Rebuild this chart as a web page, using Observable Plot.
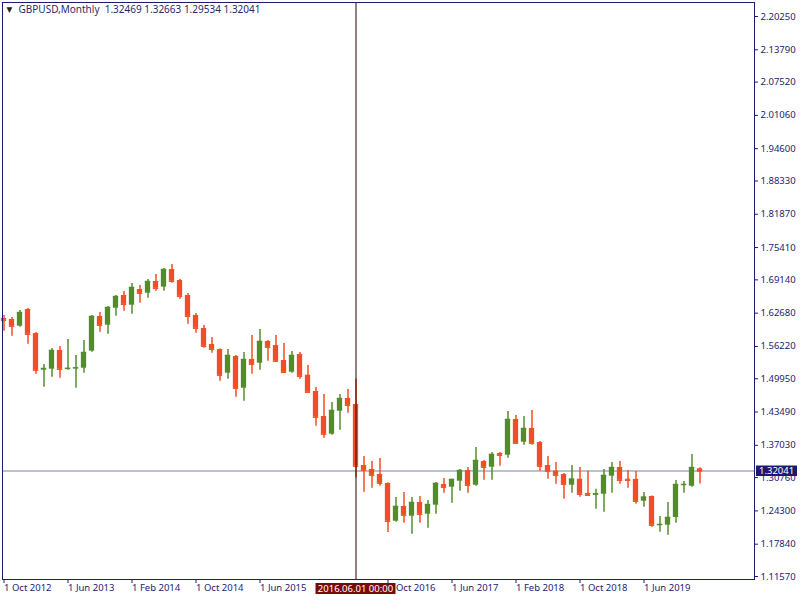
<!DOCTYPE html>
<html><head><meta charset="utf-8">
<script src="https://cdn.jsdelivr.net/npm/d3@7"></script>
<script src="https://cdn.jsdelivr.net/npm/@observablehq/plot@0.6"></script>
<style>html,body{margin:0;padding:0;background:#fff;} #chart svg{display:block}</style>
</head><body><div id="chart"></div>
<script>
const months = ["2012-10","2012-11","2012-12",
"2013-01","2013-02","2013-03","2013-04","2013-05","2013-06","2013-07","2013-08","2013-09","2013-10","2013-11","2013-12",
"2014-01","2014-02","2014-03","2014-04","2014-05","2014-06","2014-07","2014-08","2014-09","2014-10","2014-11","2014-12",
"2015-01","2015-02","2015-03","2015-04","2015-05","2015-06","2015-07","2015-08","2015-09","2015-10","2015-11","2015-12",
"2016-01","2016-02","2016-03","2016-04","2016-05","2016-06","2016-07","2016-08","2016-09","2016-10","2016-11","2016-12",
"2017-01","2017-02","2017-03","2017-04","2017-05","2017-06","2017-07","2017-08","2017-09","2017-10","2017-11","2017-12",
"2018-01","2018-02","2018-03","2018-04","2018-05","2018-06","2018-07","2018-08","2018-09","2018-10","2018-11","2018-12",
"2019-01","2019-02","2019-03","2019-04","2019-05","2019-06","2019-07","2019-08","2019-09","2019-10","2019-11","2019-12",
"2020-01"];
const open = [1.6164,1.6145,1.6015,
1.6339,1.5873,1.5161,1.5180,1.5543,1.5180,1.5196,1.5199,1.5530,1.6203,1.6034,1.6364,
1.6610,1.6422,1.6727,1.6655,1.6882,1.6772,1.7115,1.6901,1.6610,1.6222,1.5970,1.5659,
1.5562,1.5103,1.5427,1.4811,1.5368,1.5297,1.5718,1.5640,1.5349,1.5122,1.5465,1.5064,
1.4747,1.4262,1.3919,1.4365,1.4611,1.4495,1.3311,1.3234,1.3137,1.2962,1.2230,1.2516,
1.2327,1.2593,1.2366,1.2541,1.2942,1.2890,1.3006,1.3214,1.2929,1.3389,1.3278,1.3544,
1.3511,1.4204,1.3763,1.4029,1.3758,1.3311,1.3201,1.3137,1.2929,1.3045,1.2768,1.2735,
1.2754,1.3104,1.3272,1.3045,1.3040,1.2618,1.2710,1.2153,1.2153,1.2302,1.2935,1.2909,
1.32469];
const high = [1.6222,1.6185,1.6319,
1.6358,1.5892,1.5271,1.5582,1.5621,1.5756,1.5446,1.5737,1.6222,1.6280,1.6397,1.6610,
1.6688,1.6844,1.6805,1.6921,1.7018,1.7134,1.7212,1.6920,1.6649,1.6261,1.6028,1.5795,
1.5570,1.5562,1.5446,1.5504,1.5834,1.5951,1.5737,1.5834,1.5679,1.5524,1.5504,1.5252,
1.4825,1.4689,1.4534,1.4689,1.4786,1.4990,1.3486,1.3389,1.3447,1.2975,1.2690,1.2787,
1.2690,1.2710,1.2632,1.2981,1.3059,1.3045,1.3234,1.3272,1.3660,1.3408,1.3563,1.3563,
1.4359,1.4281,1.4262,1.4379,1.3777,1.3486,1.3370,1.3156,1.3311,1.3272,1.3201,1.2851,
1.3234,1.3370,1.3389,1.3214,1.3195,1.2787,1.2720,1.2321,1.2593,1.3020,1.3001,1.3525,
1.32663];
const low = [1.5917,1.5820,1.5995,
1.5665,1.5083,1.4831,1.5025,1.5005,1.5161,1.4811,1.5103,1.5510,1.5898,1.5859,1.6208,
1.6306,1.6247,1.6461,1.6558,1.6694,1.6694,1.6849,1.6539,1.6054,1.5879,1.5588,1.5490,
1.4947,1.4986,1.4637,1.4559,1.5083,1.5161,1.5336,1.5330,1.5103,1.5103,1.4986,1.4730,
1.4074,1.3841,1.3900,1.3996,1.4326,1.3070,1.2793,1.2870,1.2909,1.2010,1.2211,1.2191,
1.1978,1.2191,1.2094,1.2366,1.2774,1.2580,1.2813,1.2774,1.2909,1.3026,1.3026,1.3298,
1.3453,1.3740,1.3705,1.3705,1.3201,1.3045,1.2948,1.2657,1.2774,1.2696,1.2715,1.2463,
1.2405,1.2774,1.2948,1.2870,1.2560,1.2502,1.2114,1.2017,1.1958,1.2191,1.2774,1.2890,
1.29534];
const close = [1.6131,1.6015,1.6280,
1.5859,1.5161,1.5194,1.5543,1.5180,1.5196,1.5205,1.5504,1.6203,1.6034,1.6377,1.6591,
1.6441,1.6766,1.6655,1.6882,1.6752,1.7115,1.6888,1.6597,1.6208,1.5976,1.5626,1.5568,
1.5064,1.5446,1.4811,1.5368,1.5277,1.5718,1.5607,1.5336,1.5122,1.5446,1.5044,1.4734,
1.4249,1.3919,1.4379,1.4611,1.4481,1.3298,1.3220,1.3123,1.2968,1.2230,1.2516,1.2347,
1.2593,1.2366,1.2554,1.2962,1.2890,1.3040,1.3214,1.2929,1.3408,1.3278,1.3525,1.3511,
1.4204,1.3744,1.4029,1.3744,1.3298,1.3201,1.3123,1.2948,1.3045,1.2754,1.2735,1.2762,
1.3117,1.3272,1.3026,1.3026,1.2618,1.2696,1.2153,1.2166,1.2302,1.2942,1.2942,1.3272,
1.32041];
const symbol = "GBPUSD,Monthly";
const yTicks = [2.20250,2.13790,2.07520,2.01060,1.94600,1.88330,1.81870,1.75410,1.69140,1.62680,1.56220,1.49950,1.43490,1.37030,1.30760,1.24300,1.17840,1.11570];
const xTickMonths = ["2012-10","2013-06","2014-02","2014-10","2015-06","2016-10","2017-06","2018-02","2018-10","2019-06"];
const monthNames = ["Jan","Feb","Mar","Apr","May","Jun","Jul","Aug","Sep","Oct","Nov","Dec"];
const crossMonth = "2016-06";
const crossLabel = "2016.06.01 00:00";

const data = months.map((m, i) => ({i, m, o: open[i], h: high[i], l: low[i], c: close[i], up: close[i] >= open[i]}));
const BULL = "#558B2F", BEAR = "#F24E24", NAVY = "#1c1c72";
const col = d => d.up ? BULL : BEAR;
const fmtMonth = m => { const [y, mo] = m.split("-"); return `1 ${monthNames[+mo - 1]} ${y}`; };
const tickIdx = xTickMonths.map(m => months.indexOf(m));
const crossIdx = months.indexOf(crossMonth);
const last = data[data.length - 1];
const HALF = 0.33;
const FONT = "Noto Sans, DejaVu Sans, sans-serif";

const chart = Plot.plot({
  width: 800, height: 600,
  marginLeft: 2, marginRight: 46, marginTop: 2, marginBottom: 21,
  style: {fontFamily: FONT, fontSize: "9.5px", color: NAVY, background: "#fff"},
  x: {type: "linear", domain: [-0.1875, 93.8125]},
  y: {domain: [1.10988, 2.22966]},
  marks: [
    Plot.ruleY([last.c], {stroke: "#778899", strokeWidth: 1.2}),
    Plot.ruleX(data, {x: "i", y1: "l", y2: "h", stroke: col, strokeWidth: 1.5}),
    Plot.rect(data, {x1: d => d.i - HALF, x2: d => d.i + HALF, y1: "o", y2: "c", fill: col}),
    Plot.ruleY(data, {x1: d => d.i - HALF, x2: d => d.i + HALF, y: "c", stroke: col, strokeWidth: 1.5}),
    Plot.ruleX([crossIdx], {stroke: "#2a0303", strokeWidth: 1}),
    Plot.frame({stroke: NAVY}),
    Plot.axisY({anchor: "right", ticks: yTicks, tickFormat: d => d.toFixed(5), tickSize: 3, tickPadding: 3, label: null, stroke: NAVY}),
    Plot.axisX({ticks: tickIdx, tickFormat: i => fmtMonth(months[i]), textAnchor: "start", tickSize: 4, tickPadding: 1, label: null, stroke: NAVY}),
    Plot.text([`${symbol}  ${last.o.toFixed(5)} ${last.h.toFixed(5)} ${last.l.toFixed(5)} ${last.c.toFixed(5)}`],
      {frameAnchor: "top-left", dx: 16, dy: 3, textAnchor: "start", lineAnchor: "top", fill: "#2a2a6a", fontSize: 10}),
    Plot.text(["▼"], {frameAnchor: "top-left", dx: 4, dy: 4, textAnchor: "start", lineAnchor: "top", fill: "#222", fontSize: 7.5})
  ]
});

const svg = d3.select(chart);
const xs = chart.scale("x"), ys = chart.scale("y");
const g = svg.append("g").attr("font-family", FONT).attr("font-size", "9.5px");
const py = ys.apply(last.c);
g.append("rect").attr("x", 800 - 46 + 2).attr("y", py - 5).attr("width", 41).attr("height", 10.5).attr("fill", "#1a1a6e");
g.append("text").attr("x", 800 - 46 + 5).attr("y", py).attr("dy", "0.35em").attr("text-anchor", "start").attr("fill", "#fff").text(last.c.toFixed(5));
const cx = xs.apply(crossIdx);
g.append("rect").attr("x", cx - 40).attr("y", 583).attr("width", 80).attr("height", 11).attr("fill", "#7a0a0a");
g.append("text").attr("x", cx).attr("y", 588.5).attr("dy", "0.35em").attr("text-anchor", "middle").attr("fill", "#fff").text(crossLabel);

document.getElementById("chart").appendChild(chart);
</script>
</body></html>
